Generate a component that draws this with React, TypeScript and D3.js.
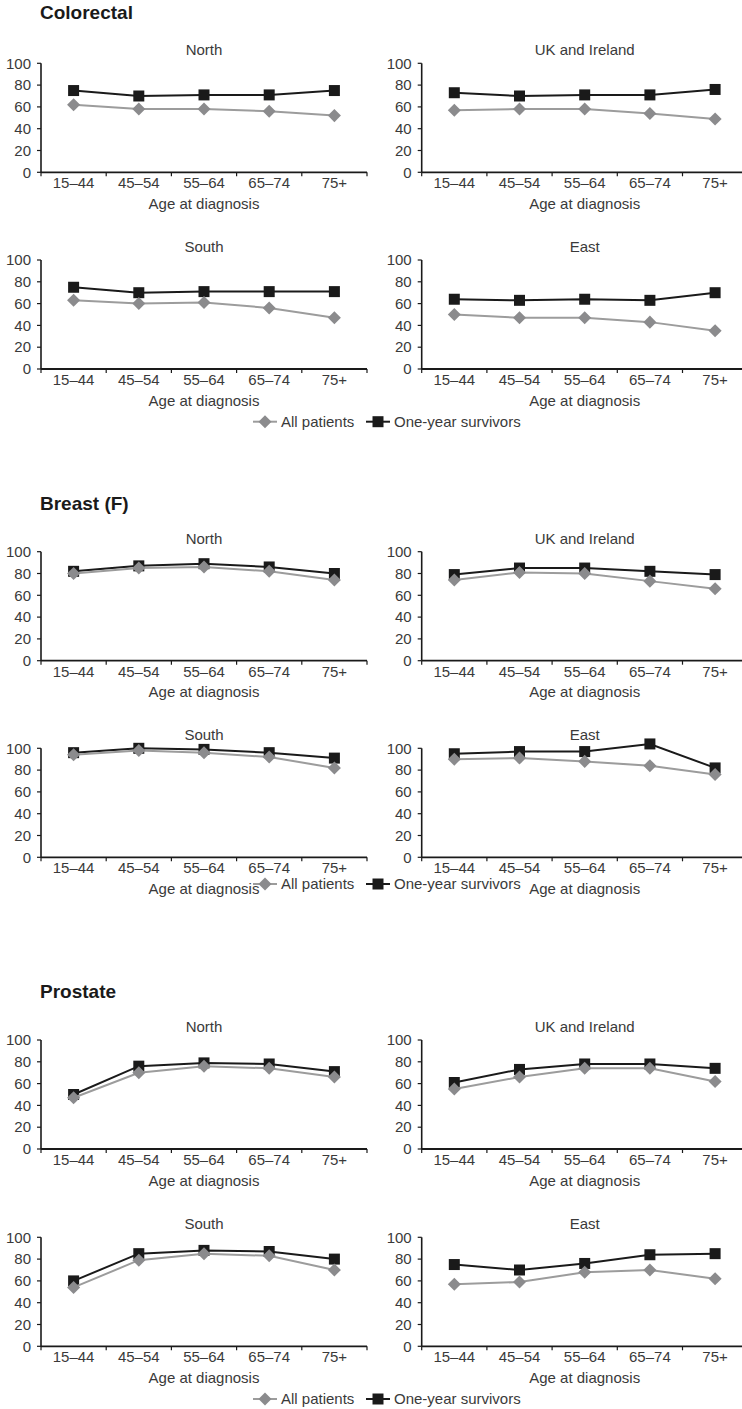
import React from "react";
import * as d3 from "d3";

const AGE_GROUPS = ["15–44", "45–54", "55–64", "65–74", "75+"];
const REGIONS = ["North", "UK and Ireland", "South", "East"];
const CANCERS = ["Colorectal", "Breast (F)", "Prostate"];
const SERIES_NAMES = ["All patients", "One-year survivors"];
const Y_TICKS = [0, 20, 40, 60, 80, 100];
const X_TITLE = "Age at diagnosis";

// values per region (North, UK and Ireland, South, East)
const colorectalAll = [[62, 58, 58, 56, 52], [57, 58, 58, 54, 49], [63, 60, 61, 56, 47], [50, 47, 47, 43, 35]];
const colorectalSurv = [[75, 70, 71, 71, 75], [73, 70, 71, 71, 76], [75, 70, 71, 71, 71], [64, 63, 64, 63, 70]];
const breastAll = [[80, 85, 86, 82, 74], [74, 81, 80, 73, 66], [94, 98, 96, 92, 82], [90, 91, 88, 84, 76]];
const breastSurv = [[82, 87, 89, 86, 80], [79, 85, 85, 82, 79], [96, 100, 99, 96, 91], [95, 97, 97, 104, 82]];
const prostateAll = [[47, 70, 76, 74, 66], [55, 66, 74, 74, 62], [54, 79, 85, 83, 70], [57, 59, 68, 70, 62]];
const prostateSurv = [[50, 76, 79, 78, 71], [61, 73, 78, 78, 74], [60, 85, 88, 87, 80], [75, 70, 76, 84, 85]];

const ALL_DATA = [colorectalAll, breastAll, prostateAll];
const SURV_DATA = [colorectalSurv, breastSurv, prostateSurv];

// layout
const W = 742, H = 1409;
const PW = 326, PH = 109;
const PANEL_X = [41, 421.7];
const SECTION_TITLE_Y = [19, 510, 998];
const ROW_TOPS = [[63.3, 260], [551.7, 748.3], [1040, 1237.3]];
const LEGEND_Y = [421.7, 884, 1399];

const FONT = "'Liberation Sans', Arial, Helvetica, sans-serif";
const FS = 15;
const TEXT = "#3a3a3a";
const GRAY_LINE = "#9c9c9c";
const GRAY_MARK = "#8b8b8d";
const BLACK = "#1a1a1a";

const x = d3.scaleBand<string>().domain(AGE_GROUPS).range([0, PW]);
const y = d3.scaleLinear().domain([0, 100]).range([PH, 0]);
const line = d3.line<number>().x((_, i) => (x(AGE_GROUPS[i]) as number) + x.bandwidth() / 2).y((d) => y(d));

const diamond = d3.symbol().type(d3.symbolDiamond2).size(108)();
const square = d3.symbol().type(d3.symbolSquare).size(121)();

function Panel({ px, py, title, all, surv }: { px: number; py: number; title: string; all: number[]; surv: number[] }) {
  const cx = (i: number) => (x(AGE_GROUPS[i]) as number) + x.bandwidth() / 2;
  return (
    <g transform={`translate(${px},${py})`}>
      <text x={PW / 2} y={-8} textAnchor="middle" fontSize={FS} fill={TEXT} fontFamily={FONT}>{title}</text>
      {Y_TICKS.map((t) => (
        <g key={t}>
          <line x1={-4} x2={0} y1={y(t)} y2={y(t)} stroke={BLACK} strokeWidth={1.2} />
          <text x={-10} y={y(t)} dy="0.35em" textAnchor="end" fontSize={FS} fill={TEXT} fontFamily={FONT}>{t}</text>
        </g>
      ))}
      {d3.range(AGE_GROUPS.length + 1).map((i) => (
        <line key={i} x1={i * x.step()} x2={i * x.step()} y1={PH} y2={PH + 4} stroke={BLACK} strokeWidth={1.2} />
      ))}
      <line x1={0} x2={0} y1={0} y2={PH} stroke={BLACK} strokeWidth={1.6} />
      <line x1={0} x2={PW} y1={PH} y2={PH} stroke={BLACK} strokeWidth={1.8} />
      {AGE_GROUPS.map((a, i) => (
        <text key={a} x={cx(i)} y={PH + 16} textAnchor="middle" fontSize={FS} fill={TEXT} fontFamily={FONT}>{a}</text>
      ))}
      <text x={PW / 2} y={PH + 36.5} textAnchor="middle" fontSize={FS} fill={TEXT} fontFamily={FONT}>{X_TITLE}</text>
      <path d={line(surv) || ""} fill="none" stroke={BLACK} strokeWidth={2} />
      {surv.map((v, i) => (
        <path key={i} d={square || ""} transform={`translate(${cx(i)},${y(v)})`} fill={BLACK} />
      ))}
      <path d={line(all) || ""} fill="none" stroke={GRAY_LINE} strokeWidth={2} />
      {all.map((v, i) => (
        <path key={i} d={diamond || ""} transform={`translate(${cx(i)},${y(v)})`} fill={GRAY_MARK} />
      ))}
    </g>
  );
}

function Legend({ ly }: { ly: number }) {
  const items = [
    { x0: 253, name: SERIES_NAMES[0], color: GRAY_LINE, mark: diamond, fill: GRAY_MARK },
    { x0: 366, name: SERIES_NAMES[1], color: BLACK, mark: square, fill: BLACK },
  ];
  return (
    <g>
      {items.map((it) => (
        <g key={it.name}>
          <line x1={it.x0} x2={it.x0 + 24} y1={ly} y2={ly} stroke={it.color} strokeWidth={2} />
          <path d={it.mark || ""} transform={`translate(${it.x0 + 12},${ly})`} fill={it.fill} />
          <text x={it.x0 + 28} y={ly} dy="0.35em" fontSize={FS} fill={TEXT} fontFamily={FONT}>{it.name}</text>
        </g>
      ))}
    </g>
  );
}

export default function App() {
  return (
    <svg width={W} height={H} style={{ position: "absolute", left: 0, top: 0, background: "#fff" }}>
      {CANCERS.map((c, s) => (
        <g key={c}>
          <text x={40} y={SECTION_TITLE_Y[s]} fontSize={19} fontWeight="bold" fill="#1a1a1a" fontFamily={FONT}>{c}</text>
          {REGIONS.map((r, k) => (
            <Panel
              key={r}
              px={PANEL_X[k % 2]}
              py={ROW_TOPS[s][Math.floor(k / 2)]}
              title={r}
              all={ALL_DATA[s][k]}
              surv={SURV_DATA[s][k]}
            />
          ))}
          <Legend ly={LEGEND_Y[s]} />
        </g>
      ))}
    </svg>
  );
}
